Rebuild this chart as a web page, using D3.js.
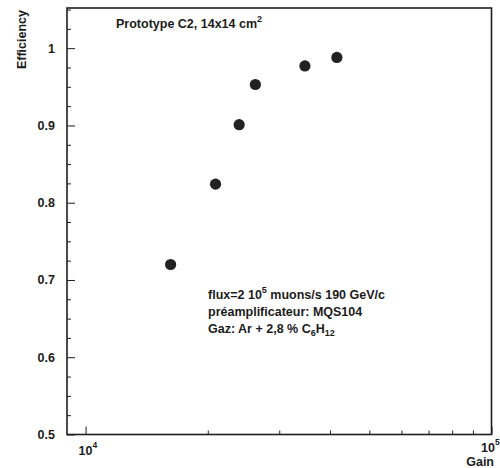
<!DOCTYPE html>
<html>
<head>
<meta charset="utf-8">
<script src="https://cdn.jsdelivr.net/npm/d3@7"></script>
<style>
  html, body { margin: 0; padding: 0; background: #ffffff; }
  svg { display: block; font-family: "Liberation Sans", Arial, Helvetica, sans-serif; }
  .lbl { font-weight: bold; fill: #1c1c1c; }
</style>
</head>
<body>
<svg id="chart" width="500" height="468"></svg>
<script>
// ---- data ----
const gain = [16200, 20900, 23900, 26200, 34700, 41600];
const efficiency = [0.720, 0.824, 0.901, 0.953, 0.977, 0.988];
const yMajorTicks = [0.5, 0.6, 0.7, 0.8, 0.9, 1.0];
const yTickLabels = ["0.5", "0.6", "0.7", "0.8", "0.9", "1"];
const xMajorTicks = [1e4, 1e5];
const xMinorTicks = [2e4, 3e4, 4e4, 5e4, 6e4, 7e4, 8e4, 9e4];
const titleText = "Prototype C2, 14x14 cm";
const yTitle = "Efficiency";
const xTitle = "Gain";

(function () {
const svg = d3.select("#chart");
const mLeft = 67, mRight = 491.5, mTop = 8, mBottom = 434.5;
const ink = "#1e1e1e";

const x = d3.scaleLog().domain([9000, 100000]).range([mLeft, mRight]);
const y = d3.scaleLinear().domain([0.5, 1.052]).range([mBottom, mTop]);

// minor y ticks every 0.025
const yMinor = d3.range(0.5, 1.051, 0.025).filter(v => !yMajorTicks.some(m => Math.abs(m - v) < 1e-6));

// frame
svg.append("rect")
  .attr("x", mLeft).attr("y", mTop)
  .attr("width", mRight - mLeft).attr("height", mBottom - mTop)
  .attr("fill", "none").attr("stroke", ink).attr("stroke-width", 1.6);

// y axis major
const yAx = svg.append("g").attr("transform", `translate(${mLeft},0)`)
  .call(d3.axisLeft(y).tickValues(yMajorTicks).tickSize(-8).tickPadding(12)
    .tickFormat((d, i) => yTickLabels[i]));
yAx.select(".domain").remove();
yAx.selectAll(".tick line").attr("stroke", ink).attr("stroke-width", 1);
yAx.selectAll(".tick text").attr("class", "lbl").style("font-size", "12.5px")
  .attr("x", -12).attr("text-anchor", "end");

// y axis minor
const yAxm = svg.append("g").attr("transform", `translate(${mLeft},0)`)
  .call(d3.axisLeft(y).tickValues(yMinor).tickSize(-4).tickFormat(""));
yAxm.select(".domain").remove();
yAxm.selectAll(".tick line").attr("stroke", ink).attr("stroke-width", 1);

// x axis major
const xAx = svg.append("g").attr("transform", `translate(0,${mBottom})`)
  .call(d3.axisBottom(x).tickValues(xMajorTicks).tickSize(-8).tickFormat(""));
xAx.select(".domain").remove();
xAx.selectAll(".tick line").attr("stroke", ink).attr("stroke-width", 1);

// x axis minor
const xAxm = svg.append("g").attr("transform", `translate(0,${mBottom})`)
  .call(d3.axisBottom(x).tickValues(xMinorTicks).tickSize(-4).tickFormat(""));
xAxm.select(".domain").remove();
xAxm.selectAll(".tick line").attr("stroke", ink).attr("stroke-width", 1);

// x tick labels 10^n
xMajorTicks.forEach(v => {
  const last = v === xMajorTicks[xMajorTicks.length - 1];
  const t = svg.append("text").attr("class", "lbl")
    .attr("x", last ? 481 : x(v) - 7).attr("y", last ? 452 : 455)
    .style("font-size", "12.5px");
  t.append("tspan").text("10");
  t.append("tspan").attr("dy", -7).style("font-size", "8.5px").text(String(Math.round(Math.log10(v))));
});

// axis titles
svg.append("text").attr("class", "lbl")
  .attr("transform", "translate(26,10) rotate(-90)")
  .attr("text-anchor", "end").style("font-size", "12.5px").text(yTitle);
svg.append("text").attr("class", "lbl")
  .attr("x", 494).attr("y", 466).attr("text-anchor", "end")
  .style("font-size", "12.5px").text(xTitle);

// title
const tt = svg.append("text").attr("class", "lbl").attr("x", 116).attr("y", 28)
  .style("font-size", "12.5px");
tt.append("tspan").text(titleText);
tt.append("tspan").attr("dy", -6).style("font-size", "9px").text("2");

// annotation
const fs = "12.5px", fsSub = "9px";
const a1 = svg.append("text").attr("class", "lbl").attr("x", 208).attr("y", 299).style("font-size", fs);
a1.append("tspan").text("flux=2 10");
a1.append("tspan").attr("dy", -6).style("font-size", fsSub).text("5");
a1.append("tspan").attr("dy", 6).text(" muons/s 190 GeV/c");

svg.append("text").attr("class", "lbl").attr("x", 208).attr("y", 316).style("font-size", fs)
  .text("préamplificateur: MQS104");

const a3 = svg.append("text").attr("class", "lbl").attr("x", 208).attr("y", 333).style("font-size", fs);
a3.append("tspan").text("Gaz: Ar + 2,8 % C");
a3.append("tspan").attr("dy", 3).style("font-size", fsSub).text("6");
a3.append("tspan").attr("dy", -3).text("H");
a3.append("tspan").attr("dy", 3).style("font-size", fsSub).text("12");

// points
svg.append("g").selectAll("circle").data(gain).join("circle")
  .attr("cx", d => x(d))
  .attr("cy", (d, i) => y(efficiency[i]))
  .attr("r", 5.6)
  .attr("fill", "#222");
})();
</script>
</body>
</html>
